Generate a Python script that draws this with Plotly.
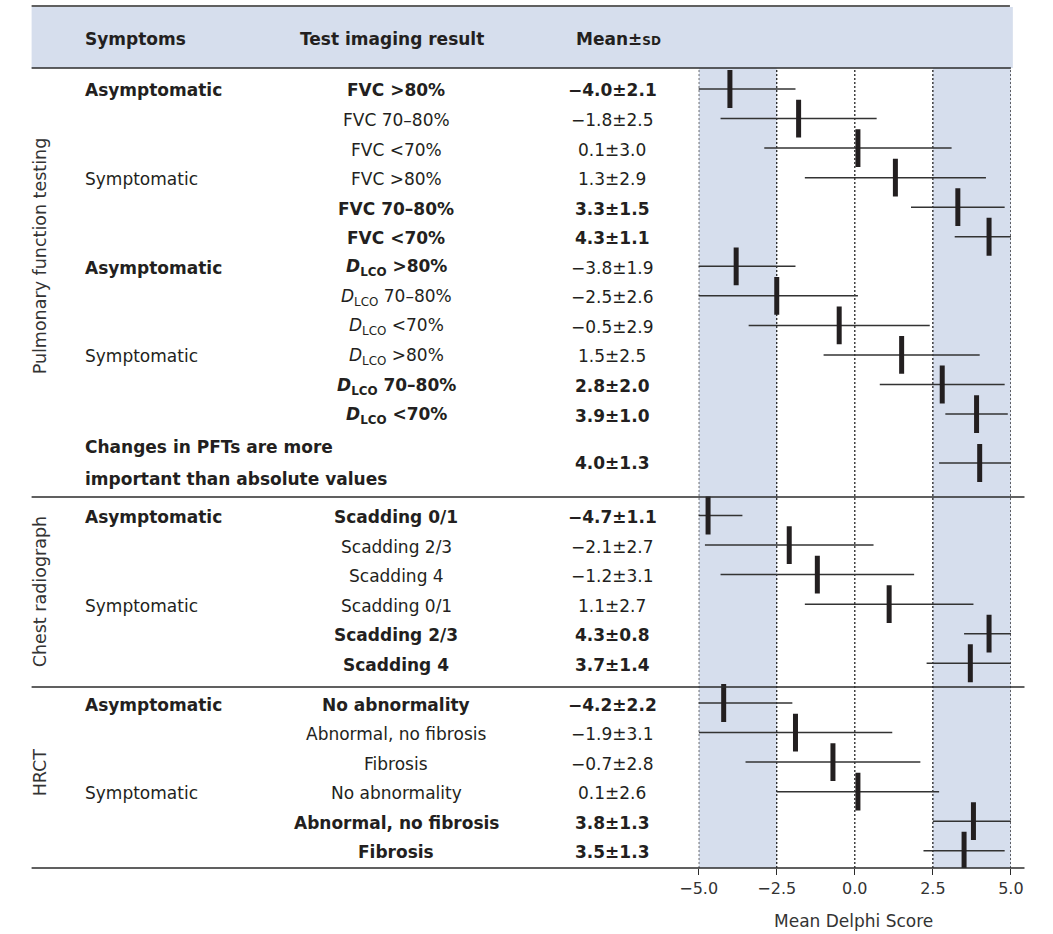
import plotly.graph_objects as go

# ---------------- data ----------------
sections = ["Pulmonary function testing", "Chest radiograph", "HRCT"]

pft_symptoms = ["Asymptomatic", "", "", "Symptomatic", "", "",
                "Asymptomatic", "", "", "Symptomatic", "", ""]
pft_tests = ["FVC &gt;80%", "FVC 70–80%", "FVC &lt;70%", "FVC &gt;80%", "FVC 70–80%", "FVC &lt;70%",
             "<i>D</i><sub>LCO</sub> &gt;80%", "<i>D</i><sub>LCO</sub> 70–80%", "<i>D</i><sub>LCO</sub> &lt;70%",
             "<i>D</i><sub>LCO</sub> &gt;80%", "<i>D</i><sub>LCO</sub> 70–80%", "<i>D</i><sub>LCO</sub> &lt;70%"]
pft_means = [-4.0, -1.8, 0.1, 1.3, 3.3, 4.3, -3.8, -2.5, -0.5, 1.5, 2.8, 3.9]
pft_sds = [2.1, 2.5, 3.0, 2.9, 1.5, 1.1, 1.9, 2.6, 2.9, 2.5, 2.0, 1.0]
pft_bold_test = [1, 0, 0, 0, 1, 1, 1, 0, 0, 0, 1, 1]
pft_bold_mean = [1, 0, 0, 0, 1, 1, 0, 0, 0, 0, 1, 1]

change_label = "Changes in PFTs are more\nimportant than absolute values"
change_mean = 4.0
change_sd = 1.3

cxr_symptoms = ["Asymptomatic", "", "", "Symptomatic", "", ""]
cxr_tests = ["Scadding 0/1", "Scadding 2/3", "Scadding 4", "Scadding 0/1", "Scadding 2/3", "Scadding 4"]
cxr_means = [-4.7, -2.1, -1.2, 1.1, 4.3, 3.7]
cxr_sds = [1.1, 2.7, 3.1, 2.7, 0.8, 1.4]
cxr_bold = [1, 0, 0, 0, 1, 1]

hrct_symptoms = ["Asymptomatic", "", "", "Symptomatic", "", ""]
hrct_tests = ["No abnormality", "Abnormal, no fibrosis", "Fibrosis",
              "No abnormality", "Abnormal, no fibrosis", "Fibrosis"]
hrct_means = [-4.2, -1.9, -0.7, 0.1, 3.8, 3.5]
hrct_sds = [2.2, 3.1, 2.8, 2.6, 1.3, 1.3]
hrct_bold = [1, 0, 0, 0, 1, 1]

headers = ["Symptoms", "Test imaging result", "Mean±<span style='font-size:12px'>SD</span>"]
x_ticks = [-5.0, -2.5, 0.0, 2.5, 5.0]
x_title = "Mean Delphi Score"

# ---------------- layout helpers ----------------
W, H = 1053, 934
ROW = 29.55
PLOT_TOP, PLOT_BOT = 68, 868
X_LEFT, X_RIGHT = 701, 1023


def px(x):
    return x / W


def py(y):
    return 1 - y / H


FONT = "DejaVu Sans"
TXT = "#231f20"
FS = 17

pft_y = [89 + ROW * i for i in range(len(pft_means))]
change_y = 463
cxr_y = [515.5 + ROW * i for i in range(len(cxr_means))]
hrct_y = [703 + ROW * i for i in range(len(hrct_means))]

all_means = pft_means + [change_mean] + cxr_means + hrct_means
all_sds = pft_sds + [change_sd] + cxr_sds + hrct_sds
all_y = pft_y + [change_y] + cxr_y + hrct_y

fig = go.Figure()

fig.add_trace(go.Scatter(
    x=all_means, y=all_y, mode="markers",
    marker=dict(symbol="line-ns", size=27, color=TXT, line=dict(width=5, color=TXT)),
    error_x=dict(type="data", array=all_sds, visible=True, thickness=1.5, width=0, color="#333333"),
    showlegend=False, hoverinfo="skip", cliponaxis=True,
))

shapes = []
# header band
shapes.append(dict(type="rect", xref="paper", yref="paper", x0=px(13), x1=px(1025), y0=py(68), y1=py(7),
                   fillcolor="#d6deed", line=dict(width=0), layer="below"))
# shaded bands in plot
for a, b in [(-5.0, -2.5), (2.5, 5.0)]:
    shapes.append(dict(type="rect", xref="x", yref="paper", x0=a, x1=b, y0=py(PLOT_BOT), y1=py(PLOT_TOP),
                       fillcolor="#d6deed", line=dict(width=0), layer="below"))
# dotted verticals
for v in x_ticks:
    shapes.append(dict(type="line", xref="x", yref="paper", x0=v, x1=v, y0=py(PLOT_BOT), y1=py(PLOT_TOP),
                       line=dict(color="#111111", width=1.2, dash="2px,2px"), layer="below"))
# horizontal rules
for y, x0, x1 in [(6, 13, 1022), (68, 13, 1023), (497, 13, 1037), (687, 13, 1037), (868, 13, 1037)]:
    shapes.append(dict(type="line", xref="paper", yref="paper", x0=px(x0), x1=px(x1), y0=py(y), y1=py(y),
                       line=dict(color="#2b2b2b", width=1.6)))

ann = []


def text(x, y, s, anchor="center", bold=False, size=FS, color=TXT, angle=0, family=FONT):
    if bold:
        s = "<b>" + s + "</b>"
    ann.append(dict(xref="paper", yref="paper", x=px(x), y=py(y), text=s, showarrow=False,
                    xanchor=anchor, yanchor="middle", textangle=angle,
                    font=dict(family=family, size=size, color=color)))


SYM_X, TEST_X, MEAN_X = 66, 389, 612
TY = 1.5  # small vertical nudge of text relative to the marks

# headers
text(SYM_X, 39, headers[0], "left", True)
text(TEST_X - 4, 39, headers[1], "center", True)
text(MEAN_X + 6, 39, headers[2], "center", True)


def fmt(m, s):
    return f"{m:.1f}±{s:.1f}".replace("-", "−")


def rows(ys, syms, tests, means, sds, bt, bm):
    for y, sy, t, m, s, b1, b2 in zip(ys, syms, tests, means, sds, bt, bm):
        if sy:
            text(SYM_X, y + TY, sy, "left", sy != "Symptomatic")
        text(TEST_X, y + TY, t, "center", bool(b1))
        text(MEAN_X, y + TY, fmt(m, s), "center", bool(b2))


rows(pft_y, pft_symptoms, pft_tests, pft_means, pft_sds, pft_bold_test, pft_bold_mean)
for k, line in enumerate(change_label.split("\n")):
    text(SYM_X, change_y - 15.5 + 31 * k, line, "left", True)
text(MEAN_X, change_y, fmt(change_mean, change_sd), "center", True)
rows(cxr_y, cxr_symptoms, cxr_tests, cxr_means, cxr_sds, cxr_bold, cxr_bold)
rows(hrct_y, hrct_symptoms, hrct_tests, hrct_means, hrct_sds, hrct_bold, hrct_bold)

# section labels
for lab, yc in zip(sections, [256, 592, 772]):
    text(22, yc, lab, "center", False, 17.5, "#333333", -90)

# axis title
text(861, 921, x_title, "center", False, 17, "#333333")

fig.update_layout(
    width=W, height=H, margin=dict(l=0, r=0, t=0, b=0),
    paper_bgcolor="white", plot_bgcolor="rgba(0,0,0,0)",
    shapes=shapes, annotations=ann,
    xaxis=dict(domain=[px(X_LEFT), px(X_RIGHT)], range=[-5, 5], tickvals=x_ticks,
               ticktext=[f"{v:.1f}".replace("-", "−") for v in x_ticks],
               showgrid=False, zeroline=False, showline=False,
               ticks="outside", ticklen=6, tickwidth=1.3, tickcolor="#2b2b2b",
               tickfont=dict(family=FONT, size=16, color="#333333"), fixedrange=True),
    yaxis=dict(domain=[py(PLOT_BOT), py(PLOT_TOP)], range=[PLOT_BOT, PLOT_TOP], visible=False,
               fixedrange=True),
)

fig.write_html("out.html", config={"displayModeBar": False},
               post_script="document.body.style.margin='0';")
